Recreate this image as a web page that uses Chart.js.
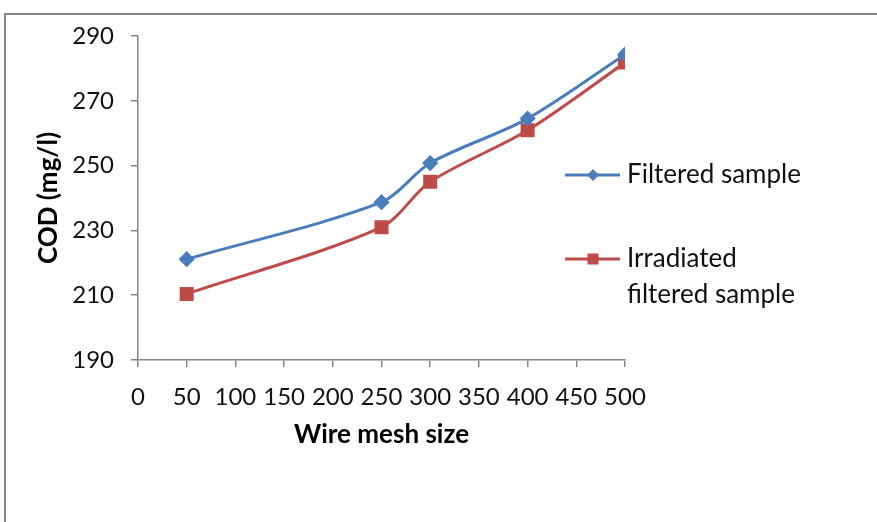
<!DOCTYPE html>
<html lang="en">
<head>
    <meta charset="UTF-8">
    <title>COD vs Wire mesh size</title>
    <script src="https://cdn.jsdelivr.net/npm/chart.js"></script>
    <style>
        body { margin: 0; background: #fff; }
        .frame {
            position: absolute; left: 4px; top: 13px; width: 900px; height: 540px;
            border-top: 2px solid #858585; border-left: 2px solid #858585;
        }
        #codChart { position: absolute; left: 0; top: 0; }
    </style>
</head>
<body>
    <div class="frame"></div>
    <canvas id="codChart" width="877" height="522"></canvas>

    <script>
        // values
        const meshSizes = [50, 250, 300, 400, 500];
        const filtered = [221.1, 238.7, 250.8, 264.5, 284.3];
        const irradiated = [210.4, 231.0, 245.0, 260.9, 281.8];
        const seriesNames = ['Filtered sample', ['Irradiated', 'filtered sample']];

        const blue = '#4a7ebb';
        const red = '#be4b48';
        const font = 'Lato, "Liberation Sans", sans-serif';

        const toPoints = vals => vals.map((v, i) => ({ x: meshSizes[i], y: v }));

        // legend drawn beside the plot like the original (second label wraps)
        const sideLegend = {
            id: 'sideLegend',
            afterDraw(chart) {
                const ctx = chart.ctx;
                const rows = [175, 259];
                ctx.save();
                chart.data.datasets.forEach((ds, i) => {
                    const y = rows[i];
                    ctx.strokeStyle = ds.borderColor;
                    ctx.lineWidth = 3;
                    ctx.beginPath();
                    ctx.moveTo(565, y);
                    ctx.lineTo(620, y);
                    ctx.stroke();
                    ctx.fillStyle = ds.borderColor;
                    ctx.beginPath();
                    if (ds.pointStyle === 'rectRot') {
                        ctx.moveTo(593 - 6, y); ctx.lineTo(593, y - 6);
                        ctx.lineTo(593 + 6, y); ctx.lineTo(593, y + 6);
                        ctx.closePath();
                    } else {
                        ctx.rect(593 - 5.5, y - 5.5, 11, 11);
                    }
                    ctx.fill();
                    ctx.fillStyle = '#111';
                    ctx.font = '26px ' + font;
                    ctx.textBaseline = 'middle';
                    const lines = Array.isArray(seriesNames[i]) ? seriesNames[i] : [seriesNames[i]];
                    lines.forEach((t, k) => ctx.fillText(t, 627, y + k * 36));
                });
                ctx.restore();
            }
        };

        const ctx = document.getElementById('codChart').getContext('2d');
        new Chart(ctx, {
            type: 'line',
            data: {
                datasets: [{
                    label: 'Filtered sample',
                    data: toPoints(filtered),
                    borderColor: blue,
                    backgroundColor: blue,
                    borderWidth: 3,
                    pointStyle: 'rectRot',
                    pointRadius: 6,
                    tension: 0.3,
                    fill: false
                }, {
                    label: 'Irradiated filtered sample',
                    data: toPoints(irradiated),
                    borderColor: red,
                    backgroundColor: red,
                    borderWidth: 3,
                    pointStyle: 'rect',
                    pointRadius: 7.8,
                    tension: 0.3,
                    fill: false
                }]
            },
            options: {
                responsive: false,
                animation: false,
                layout: { padding: { left: 29, top: 36, right: 252, bottom: 68 } },
                plugins: {
                    legend: { display: false },
                    tooltip: { enabled: false }
                },
                scales: {
                    x: {
                        type: 'linear',
                        min: 0,
                        max: 500,
                        afterFit: s => { s.height = 94; },
                        ticks: { stepSize: 50, color: '#111', font: { family: font, size: 24 }, padding: 16, maxRotation: 0 },
                        grid: { drawOnChartArea: false, tickLength: 7, color: '#868686', lineWidth: 1.5 },
                        border: { color: '#868686', width: 1.5 },
                        title: { display: true, text: 'Wire mesh size', color: '#000', font: { family: font, size: 26, weight: 'bold' } }
                    },
                    y: {
                        min: 190,
                        max: 290,
                        afterFit: s => { s.width = 109; },
                        ticks: { stepSize: 20, color: '#111', font: { family: font, size: 24 }, padding: 17 },
                        grid: { drawOnChartArea: false, tickLength: 7, color: '#868686', lineWidth: 1.5 },
                        border: { color: '#868686', width: 1.5 },
                        title: { display: true, text: 'COD (mg/l)', color: '#000', font: { family: font, size: 26, weight: 'bold' } }
                    }
                }
            },
            plugins: [sideLegend]
        });
    </script>
</body>
</html>
